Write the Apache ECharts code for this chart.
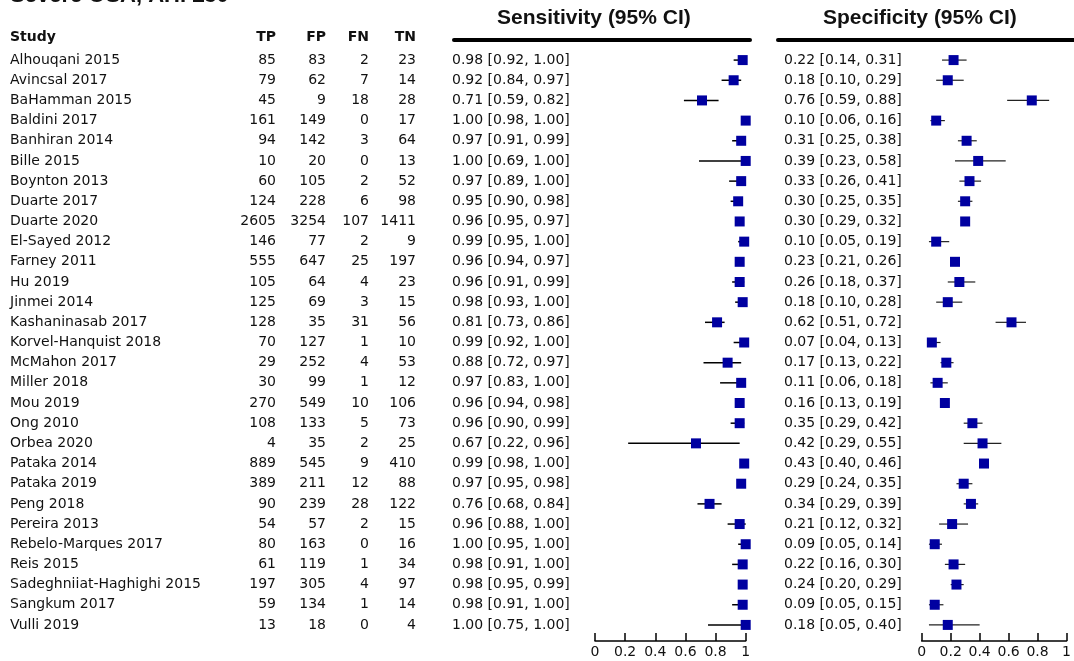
<!DOCTYPE html>
<html>
<head>
<meta charset="utf-8">
<script src="https://cdn.jsdelivr.net/npm/echarts@6/dist/echarts.min.js"></script>
<style>
html, body { margin: 0; padding: 0; background: #fff; }
#main { width: 1074px; height: 661px; }
</style>
</head>
<body>
<div id="main"></div>
<script>
var studies = ['Alhouqani 2015', 'Avincsal 2017', 'BaHamman 2015', 'Baldini 2017', 'Banhiran 2014',
    'Bille 2015', 'Boynton 2013', 'Duarte 2017', 'Duarte 2020', 'El-Sayed 2012', 'Farney 2011',
    'Hu 2019', 'Jinmei 2014', 'Kashaninasab 2017', 'Korvel-Hanquist 2018', 'McMahon 2017',
    'Miller 2018', 'Mou 2019', 'Ong 2010', 'Orbea 2020', 'Pataka 2014', 'Pataka 2019', 'Peng 2018',
    'Pereira 2013', 'Rebelo-Marques 2017', 'Reis 2015', 'Sadeghniiat-Haghighi 2015', 'Sangkum 2017',
    'Vulli 2019'];
var tp = [85, 79, 45, 161, 94, 10, 60, 124, 2605, 146, 555, 105, 125, 128, 70, 29, 30, 270, 108, 4, 889, 389, 90, 54, 80, 61, 197, 59, 13];
var fp = [83, 62, 9, 149, 142, 20, 105, 228, 3254, 77, 647, 64, 69, 35, 127, 252, 99, 549, 133, 35, 545, 211, 239, 57, 163, 119, 305, 134, 18];
var fn = [2, 7, 18, 0, 3, 0, 2, 6, 107, 2, 25, 4, 3, 31, 1, 4, 1, 10, 5, 2, 9, 12, 28, 2, 0, 1, 4, 1, 0];
var tn = [23, 14, 28, 17, 64, 13, 52, 98, 1411, 9, 197, 23, 15, 56, 10, 53, 12, 106, 73, 25, 410, 88, 122, 15, 16, 34, 97, 14, 4];

var sens   = [0.98, 0.92, 0.71, 1.00, 0.97, 1.00, 0.97, 0.95, 0.96, 0.99, 0.96, 0.96, 0.98, 0.81, 0.99, 0.88, 0.97, 0.96, 0.96, 0.67, 0.99, 0.97, 0.76, 0.96, 1.00, 0.98, 0.98, 0.98, 1.00];
var sensLo = [0.92, 0.84, 0.59, 0.98, 0.91, 0.69, 0.89, 0.90, 0.95, 0.95, 0.94, 0.91, 0.93, 0.73, 0.92, 0.72, 0.83, 0.94, 0.90, 0.22, 0.98, 0.95, 0.68, 0.88, 0.95, 0.91, 0.95, 0.91, 0.75];
var sensHi = [1.00, 0.97, 0.82, 1.00, 0.99, 1.00, 1.00, 0.98, 0.97, 1.00, 0.97, 0.99, 1.00, 0.86, 1.00, 0.97, 1.00, 0.98, 0.99, 0.96, 1.00, 0.98, 0.84, 1.00, 1.00, 1.00, 0.99, 1.00, 1.00];

var spec   = [0.22, 0.18, 0.76, 0.10, 0.31, 0.39, 0.33, 0.30, 0.30, 0.10, 0.23, 0.26, 0.18, 0.62, 0.07, 0.17, 0.11, 0.16, 0.35, 0.42, 0.43, 0.29, 0.34, 0.21, 0.09, 0.22, 0.24, 0.09, 0.18];
var specLo = [0.14, 0.10, 0.59, 0.06, 0.25, 0.23, 0.26, 0.25, 0.29, 0.05, 0.21, 0.18, 0.10, 0.51, 0.04, 0.13, 0.06, 0.13, 0.29, 0.29, 0.40, 0.24, 0.29, 0.12, 0.05, 0.16, 0.20, 0.05, 0.05];
var specHi = [0.31, 0.29, 0.88, 0.16, 0.38, 0.58, 0.41, 0.35, 0.32, 0.19, 0.26, 0.37, 0.28, 0.72, 0.13, 0.22, 0.18, 0.19, 0.42, 0.55, 0.46, 0.35, 0.39, 0.32, 0.14, 0.30, 0.29, 0.15, 0.40];

var ticks = [0, 0.2, 0.4, 0.6, 0.8, 1];

var FONT = '"DejaVu Sans", sans-serif';
var BLUE = '#0000a0';

function ciText(v, lo, hi) {
    return v.map(function (x, i) {
        return x.toFixed(2) + ' [' + lo[i].toFixed(2) + ', ' + hi[i].toFixed(2) + ']';
    });
}

// category axes used as table columns, one per column
function colAxis(grid, data, offset, align) {
    return {
        type: 'category', gridIndex: grid, data: data.map(String), inverse: true,
        position: 'left', offset: offset,
        axisLine: { show: false }, axisTick: { show: false }, splitLine: { show: false },
        axisLabel: { interval: 0, margin: 0, align: align, fontSize: 14, fontFamily: FONT, color: '#111' }
    };
}

function valAxis(grid) {
    return {
        type: 'value', gridIndex: grid, min: ticks[0], max: ticks[ticks.length - 1], interval: 0.2, offset: 6,
        axisLine: { show: true, lineStyle: { color: '#000', width: 1.5 } },
        axisTick: { show: true, inside: true, length: 8, lineStyle: { color: '#000', width: 1.5 } },
        axisLabel: { fontSize: 14, fontFamily: FONT, color: '#111', margin: 4 },
        splitLine: { show: false }
    };
}

function ciRender(width, color) {
    return function (params, api) {
        var y = api.value(2);
        var a = api.coord([api.value(0), y]);
        var b = api.coord([api.value(1), y]);
        return {
            type: 'line',
            shape: { x1: a[0], y1: a[1], x2: b[0], y2: b[1] },
            style: { stroke: color, lineWidth: width }
        };
    };
}

var idx = studies.map(function (s, i) { return i; });
var sensCI = idx.map(function (i) { return [sensLo[i], sensHi[i], i]; });
var specCI = idx.map(function (i) { return [specLo[i], specHi[i], i]; });
var sensPts = idx.map(function (i) { return [sens[i], i]; });
var specPts = idx.map(function (i) { return [spec[i], i]; });

var chart = echarts.init(document.getElementById('main'));
var gridTop = 50, gridH = 585;
var sensLeft = 595, sensW = 150.7, specLeft = 921.7, specW = 148.5;

chart.setOption({
    animation: false,
    backgroundColor: '#fff',
    grid: [
        { left: sensLeft, top: gridTop, width: sensW, height: gridH },
        { left: specLeft, top: gridTop, width: specW, height: gridH }
    ],
    xAxis: [valAxis(0), valAxis(1)],
    yAxis: [
        colAxis(0, studies, sensLeft - 10, 'left'),
        colAxis(0, tp, sensLeft - 276, 'right'),
        colAxis(0, fp, sensLeft - 326, 'right'),
        colAxis(0, fn, sensLeft - 369, 'right'),
        colAxis(0, tn, sensLeft - 416, 'right'),
        colAxis(0, ciText(sens, sensLo, sensHi), sensLeft - 452, 'left'),
        colAxis(1, ciText(spec, specLo, specHi), specLeft - 784, 'left')
    ],
    graphic: [
        { type: 'text', left: 10, top: -15, style: { text: 'Severe OSA, AHI \u226530', font: 'bold 22px "Liberation Sans", sans-serif', fill: '#111' } },
        { type: 'text', left: 10, top: 30, style: { text: 'Study', font: 'bold 14px ' + FONT, fill: '#111' } },
        { type: 'text', right: 1074 - 276, top: 30, style: { text: 'TP', font: 'bold 14px ' + FONT, fill: '#111' } },
        { type: 'text', right: 1074 - 326, top: 30, style: { text: 'FP', font: 'bold 14px ' + FONT, fill: '#111' } },
        { type: 'text', right: 1074 - 369, top: 30, style: { text: 'FN', font: 'bold 14px ' + FONT, fill: '#111' } },
        { type: 'text', right: 1074 - 416, top: 30, style: { text: 'TN', font: 'bold 14px ' + FONT, fill: '#111' } },
        { type: 'text', left: 497, top: 8, style: { text: 'Sensitivity (95% CI)', font: 'bold 21px "Liberation Sans", sans-serif', fill: '#111' } },
        { type: 'text', left: 823, top: 8, style: { text: 'Specificity (95% CI)', font: 'bold 21px "Liberation Sans", sans-serif', fill: '#111' } },
        { type: 'rect', shape: { x: 452, y: 38, width: 300, height: 4, r: 2 }, style: { fill: '#000' } },
        { type: 'rect', shape: { x: 776, y: 38, width: 300, height: 4, r: 2 }, style: { fill: '#000' } }
    ],
    series: [
        { type: 'custom', xAxisIndex: 0, yAxisIndex: 0, data: sensCI, encode: { x: [0, 1], y: 2 }, renderItem: ciRender(1.5, '#000') },
        { type: 'custom', xAxisIndex: 1, yAxisIndex: 6, data: specCI, encode: { x: [0, 1], y: 2 }, renderItem: ciRender(1.2, '#222') },
        { type: 'scatter', xAxisIndex: 0, yAxisIndex: 0, data: sensPts, symbol: 'rect', symbolSize: 10, itemStyle: { color: BLUE, opacity: 1 } },
        { type: 'scatter', xAxisIndex: 1, yAxisIndex: 6, data: specPts, symbol: 'rect', symbolSize: 10, itemStyle: { color: BLUE, opacity: 1 } }
    ]
});
</script>
</body>
</html>
